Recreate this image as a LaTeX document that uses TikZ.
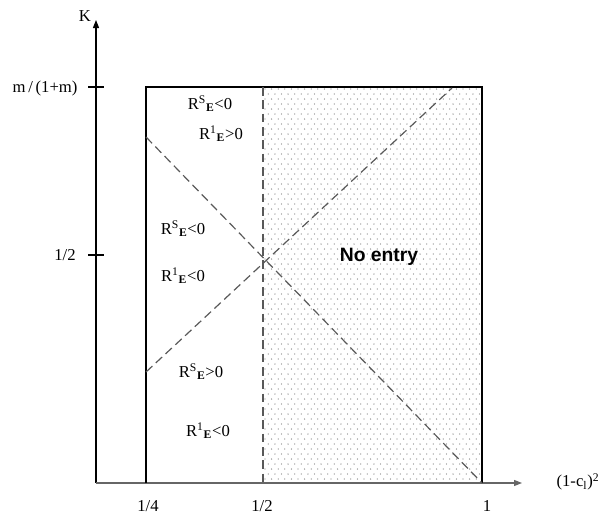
\documentclass[tikz,border=0pt]{standalone}
\usepackage{fontspec}
\setmainfont{Liberation Serif}
\newfontfamily\sansb{Liberation Sans}
\usetikzlibrary{arrows.meta}
\begin{document}
\begin{tikzpicture}[x=0.75pt,y=-0.75pt,
  every node/.style={inner sep=0pt,outer sep=0pt,font=\fontsize{12.5}{14}\selectfont},
  axis/.style={line width=0.8pt,-{Triangle[length=6pt,width=4.5pt]}},
  boxline/.style={line width=0.9pt,black},
  dashline/.style={line width=0.9pt,black!65,dash pattern=on 6.5pt off 3.5pt},
  tick/.style={line width=0.8pt},
  dot/.style={fill=black!50}]
\useasboundingbox (0,0) rectangle (601,515);
% dotted region
\begin{scope}
\clip (263,87) rectangle (482,483);
\foreach \j in {0,...,79}{
  \foreach \i in {0,...,33}{
    \fill[dot] ({265+\i*6.6+mod(\j,2)*3.3},{89+\j*5}) circle (0.65);
  }
}
\end{scope}
% coordinates
\coordinate (O) at (96,483);
\coordinate (Ytop) at (96,20);
\coordinate (Xend) at (522,483);
\coordinate (BL) at (146,483);
\coordinate (TR) at (482,87);
\coordinate (TL) at (146,87);
\coordinate (BR) at (482,483);
\coordinate (Vt) at (263,87);
\coordinate (Vb) at (263,483);
\coordinate (D1a) at (146,137);
\coordinate (D1b) at (482,483);
\coordinate (D2a) at (146,372);
\coordinate (D2b) at (452,88);
\coordinate (T1a) at (88,87);
\coordinate (T1b) at (104,87);
\coordinate (T2a) at (88,255);
\coordinate (T2b) at (104,255);
% axes
\draw[axis,black] (O) -- (Ytop);
\draw[axis,black!60] (O) -- (Xend);
\draw[tick] (T1a) -- (T1b);
\draw[tick] (T2a) -- (T2b);
% box
\draw[boxline] (BL) -- (TL) -- (TR) -- (BR);
% dashed lines
\draw[dashline] (Vt) -- (Vb);
\draw[dashline] (D1a) -- (D1b);
\draw[dashline] (D2a) -- (D2b);
% labels
\node (K) at (85,16) {K};
\node (lm) at (45,88) {m\,/\,(1+m)};
\node (lh) at (65,255) {1/2};
\node (x14) at (148,506) {1/4};
\node (x12) at (262,506) {1/2};
\node (x1) at (487,506) {1};
\node (xl) at (578,482) {(1-c\textsubscript{l})\textsuperscript{2}};
\node (r1) at (210,104) {R\textsuperscript{S}\textsubscript{\textbf{E}}<0};
\node (r2) at (221,134) {R\textsuperscript{1}\textsubscript{\textbf{E}}>0};
\node (r3) at (183,229) {R\textsuperscript{S}\textsubscript{\textbf{E}}<0};
\node (r4) at (183,276) {R\textsuperscript{1}\textsubscript{\textbf{E}}<0};
\node (r5) at (201,372) {R\textsuperscript{S}\textsubscript{\textbf{E}}>0};
\node (r6) at (208,431) {R\textsuperscript{1}\textsubscript{\textbf{E}}<0};
\node[font=\sansb\bfseries\fontsize{14.5}{16}\selectfont] (ne) at (379,257) {No entry};
\end{tikzpicture}
\end{document}
